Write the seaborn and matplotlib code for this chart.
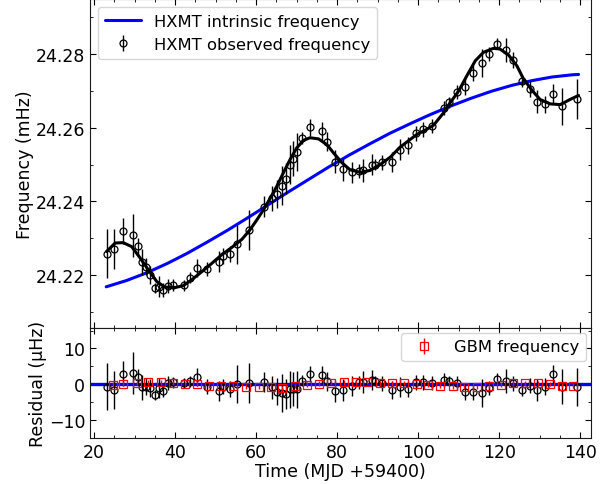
import numpy as np
import matplotlib
matplotlib.use("Agg")
import matplotlib.pyplot as plt
from matplotlib.ticker import MultipleLocator, FormatStrFormatter
import seaborn as sns

# ----------------------------------------------------------
# Data
# ----------------------------------------------------------
# HXMT observed frequency (mHz), errors and residuals (µHz)
hx_time = [23.1, 25.0, 27.2, 29.5, 30.9, 31.8, 32.8, 33.8, 35.1, 36.1,
           37.1, 38.3, 39.6, 42.3, 43.7, 45.5, 47.8, 50.9, 51.9, 53.6,
           55.2, 58.3, 62.0, 63.9, 65.1, 66.3, 67.3, 68.4, 69.2, 70.2,
           71.4, 73.3, 76.2, 77.5, 79.5, 81.4, 83.6, 85.3, 86.3, 88.6,
           89.4, 91.0, 93.5, 95.6, 97.6, 99.5, 101.3, 103.4, 106.4, 107.5,
           109.6, 111.6, 113.5, 115.7, 117.4, 119.4, 121.7, 123.5, 125.6, 127.5,
           129.3, 131.4, 133.4, 135.5, 139.3]
hx_freq = [24.2258, 24.2270, 24.2320, 24.2308, 24.2278, 24.2236, 24.2222, 24.2200, 24.2165, 24.2168,
           24.2160, 24.2170, 24.2172, 24.2172, 24.2192, 24.2219, 24.2216, 24.2236, 24.2252, 24.2257,
           24.2283, 24.2323, 24.2386, 24.2408, 24.2420, 24.2443, 24.2462, 24.2500, 24.2516, 24.2534,
           24.2573, 24.2601, 24.2591, 24.2562, 24.2508, 24.2487, 24.2479, 24.2483, 24.2485, 24.2500,
           24.2500, 24.2506, 24.2507, 24.2541, 24.2552, 24.2585, 24.2596, 24.2605, 24.2655, 24.2669,
           24.2697, 24.2712, 24.2749, 24.2775, 24.2800, 24.2829, 24.2811, 24.2784, 24.2726, 24.2706,
           24.2671, 24.2664, 24.2692, 24.2658, 24.2678]
hx_err = [6.6, 5.4, 3.5, 5.9, 2.2, 3.5, 2.3, 2.4, 1.4, 2.8,
          1.9, 2.0, 1.6, 1.5, 1.5, 2.5, 2.0, 2.8, 2.2, 2.2,
          5.4, 5.5, 2.8, 3.3, 3.8, 5.2, 4.2, 5.2, 4.7, 5.2,
          1.6, 2.3, 2.6, 2.6, 3.1, 3.1, 2.8, 1.9, 3.1, 2.8,
          1.4, 2.1, 2.6, 2.8, 2.3, 2.1, 2.1, 1.9, 1.9, 1.4,
          1.9, 2.3, 2.3, 3.8, 1.9, 1.6, 3.3, 2.1, 1.6, 2.1,
          3.1, 2.3, 2.6, 4.9, 5.4]
hx_resid = [-0.7, -1.6, 2.9, 3.1, 1.9, -0.9, -0.7, -1.1, -3.0, -1.1,
            -1.8, 0.3, 0.5, 0.3, 0.8, 1.9, -0.7, -1.9, -0.7, -1.4,
            0.0, 0.3, 0.5, -0.9, -2.1, -2.5, -2.8, -1.4, -1.4, -1.4,
            1.0, 2.8, 2.6, 0.8, -1.9, -1.6, -0.5, 0.5, 0.5, 1.2,
            0.8, 0.3, -1.6, -0.7, -1.3, 0.5, 0.5, 0.3, 1.2, 0.8,
            0.3, -2.1, -2.1, -2.5, -1.1, 1.4, 0.8, 0.3, -1.6, -0.5,
            -1.6, -0.7, 2.8, -0.7, -0.8]

# full timing model (black curve)
model_time = [23.1, 25.2, 27.2, 29.3, 31.4, 33.4, 35.5, 37.5, 40.0, 42.0,
              44.1, 46.6, 49.1, 51.5, 54.0, 56.5, 58.5, 60.2, 61.8, 63.5,
              65.1, 66.7, 68.4, 70.0, 71.7, 73.3, 75.4, 77.5, 79.1, 81.2,
              83.2, 85.7, 88.1, 90.6, 93.1, 95.6, 98.0, 99.7, 101.8, 103.8,
              106.3, 107.9, 110.0, 112.0, 114.1, 116.1, 118.6, 120.2, 122.3, 124.4,
              126.0, 128.1, 130.1, 132.6, 135.1, 137.5, 139.6]
model_freq = [24.2264, 24.2287, 24.2288, 24.2277, 24.2246, 24.2214, 24.2182, 24.2167, 24.2166, 24.2171,
              24.2187, 24.2209, 24.2232, 24.2255, 24.2275, 24.2297, 24.2323, 24.2350, 24.2377, 24.2409,
              24.2441, 24.2477, 24.2514, 24.2545, 24.2566, 24.2573, 24.2570, 24.2554, 24.2532, 24.2505,
              24.2486, 24.2479, 24.2484, 24.2500, 24.2520, 24.2548, 24.2568, 24.2582, 24.2594, 24.2607,
              24.2641, 24.2668, 24.2700, 24.2741, 24.2782, 24.2805, 24.2816, 24.2814, 24.2798, 24.2768,
              24.2733, 24.2702, 24.2677, 24.2665, 24.2663, 24.2677, 24.2688]

# intrinsic spin frequency (blue curve)
intr_time = [23, 28, 33, 38, 43, 48, 53, 58, 63, 68, 73, 78, 83,
             88, 93, 98, 103, 108, 113, 118, 123, 128, 133, 138, 139.6]
intr_freq = [24.2168, 24.2185, 24.2206, 24.2231, 24.2259, 24.2290, 24.2322, 24.2356, 24.2391,
             24.2426, 24.2460, 24.2494, 24.2526, 24.2556, 24.2585, 24.2611, 24.2636, 24.2659,
             24.2680, 24.2699, 24.2715, 24.2728, 24.2738, 24.2744, 24.2745]

# GBM residuals (µHz)
gbm_time = [24.6, 27.2, 30.5, 33.4, 36.5, 39.6, 42.5, 45.5, 48.4, 51.4,
            54.4, 57.4, 60.6, 63.6, 66.5, 69.6, 72.5, 75.6, 78.5, 81.6,
            84.6, 87.5, 90.6, 93.5, 96.5, 99.7, 102.5, 105.4, 108.5, 111.4,
            114.5, 117.5, 120.5, 123.5, 126.4, 129.6, 132.6, 135.5, 138.3]
gbm_resid = [-0.2, 0.1, 0.3, 0.5, 0.5, 0.3, 0.1, 0.1, -0.4, -0.4,
             -0.5, -0.8, -0.8, -0.8, -1.1, -0.5, -0.2, 0.1, 0.3, 0.5,
             0.5, 0.5, 0.3, 0.2, 0.3, -0.1, -0.2, -0.4, -0.6, -0.8,
             -0.8, -0.4, -0.2, 0.2, 0.3, 0.2, 0.0, -0.4, -0.4]
gbm_err = [0.7, 0.7, 0.6, 0.7, 0.7, 0.6, 0.6, 0.7, 0.7, 0.6,
           0.7, 0.7, 0.6, 0.7, 0.7, 0.6, 0.7, 0.7, 0.6, 0.7,
           0.7, 0.6, 0.7, 0.7, 0.6, 0.7, 0.7, 0.6, 0.7, 0.7,
           0.6, 0.7, 0.7, 0.6, 0.7, 0.7, 0.6, 0.7, 0.7]

# ----------------------------------------------------------
# Style
# ----------------------------------------------------------
sns.set_style("ticks")
plt.rcParams.update({
    "font.family": ["DejaVu Sans"],
    "text.color": "black", "axes.labelcolor": "black",
    "xtick.color": "black", "ytick.color": "black",
    "xtick.direction": "in", "ytick.direction": "in",
    "xtick.top": True, "ytick.right": True,
    "xtick.major.size": 4.5, "ytick.major.size": 4.5,
    "xtick.minor.size": 2.5, "ytick.minor.size": 2.5,
    "xtick.labelsize": 12.5, "ytick.labelsize": 12.5,
    "axes.labelsize": 12.5,
    "axes.edgecolor": "0.1",
})

fig = plt.figure(figsize=(6.11, 4.85), dpi=100)
ax1 = fig.add_axes([0.1473, 0.3216, 0.8195, 0.6784])
ax2 = fig.add_axes([0.1473, 0.0948, 0.8195, 0.2268], sharex=ax1)

# ----------------------------------------------------------
# Top panel: frequencies
# ----------------------------------------------------------
sns.lineplot(x=intr_time, y=intr_freq, ax=ax1, color="blue", lw=2.2,
             label="HXMT intrinsic frequency", zorder=2)
ax1.errorbar(hx_time, hx_freq, yerr=np.array(hx_err) * 1e-3, fmt="o",
             mfc="none", mec="black", ecolor="black", ms=5, mew=0.9,
             elinewidth=1, capsize=0, label="HXMT observed frequency", zorder=3)
sns.lineplot(x=model_time, y=model_freq, ax=ax1, color="black", lw=2.2, zorder=4)

h, l = ax1.get_legend_handles_labels()
ax1.legend(h[:2], l[:2], loc="upper left", fontsize=11.8, handlelength=2.2,
           borderaxespad=0.5, edgecolor="0.8")

ax1.set_xlim(19.0, 142.6)
ax1.set_ylim(24.2056, 24.2950)
ax1.yaxis.set_major_locator(MultipleLocator(0.02))
ax1.yaxis.set_minor_locator(MultipleLocator(0.01))
ax1.yaxis.set_major_formatter(FormatStrFormatter("%.2f"))
ax1.xaxis.set_major_locator(MultipleLocator(20))
ax1.xaxis.set_minor_locator(MultipleLocator(5))
ax1.tick_params(axis="x", which="both", labelbottom=False)
ax1.tick_params(which="both", top=True, right=True)
ax1.set_ylabel("Frequency (mHz)", labelpad=1)
ax1.set_xlabel("")

# ----------------------------------------------------------
# Bottom panel: residuals
# ----------------------------------------------------------
ax2.axhline(0, color="blue", lw=2.4, zorder=1)
ax2.errorbar(hx_time, hx_resid, yerr=hx_err, fmt="o", mfc="none", mec="black",
             ecolor="black", ms=5, mew=0.9, elinewidth=1, capsize=0, zorder=3)
ax2.errorbar(gbm_time, gbm_resid, yerr=gbm_err, fmt="s", mfc="none", mec="red",
             ecolor="red", ms=6, mew=0.9, elinewidth=1, capsize=0,
             label="GBM frequency", zorder=4)
ax2.legend(loc="upper right", fontsize=11.8, borderaxespad=0.3, edgecolor="0.8")

ax2.set_ylim(-15.1, 15.7)
ax2.yaxis.set_major_locator(MultipleLocator(10))
ax2.yaxis.set_minor_locator(MultipleLocator(5))
ax2.tick_params(which="both", top=True, right=True)
ax2.set_ylabel("Residual (µHz)", labelpad=1)
ax2.set_xlabel("Time (MJD +59400)", labelpad=1)

fig.align_ylabels([ax1, ax2])
fig.savefig("out.png", dpi=100)
